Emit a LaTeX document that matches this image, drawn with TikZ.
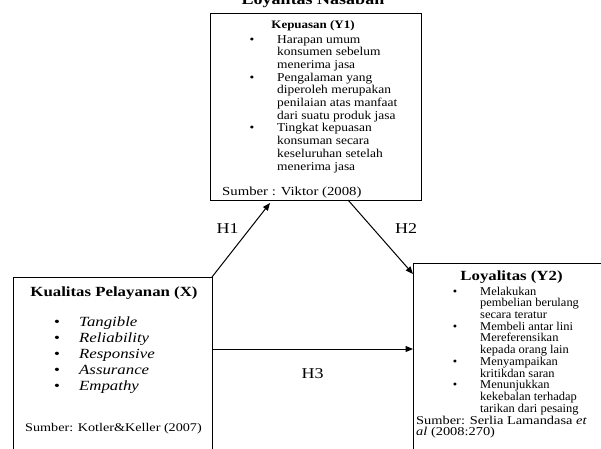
\documentclass[tikz,border=0pt]{standalone}
\usepackage{fontspec}
\setmainfont{Liberation Serif}
\usetikzlibrary{arrows.meta}
% horizontal scaling of 12pt / 14pt / 15pt text
\newcommand{\kpt}[1]{\scalebox{1.12}[1]{#1}}
\newcommand{\lyt}[1]{\scalebox{1.04}[1]{#1}}
\newcommand{\wide}[1]{\scalebox{1.2}[1]{#1}}
\begin{document}
\begin{tikzpicture}[x=1pt,y=-1pt,
  box/.style={draw, line width=0.8pt, inner sep=0pt, outer sep=0pt, anchor=north west},
  lft/.style={inner sep=0pt, anchor=base west},
  mid/.style={inner sep=0pt, anchor=base},
  f12/.style={font=\fontsize{12}{14}\selectfont},
  f12b/.style={font=\fontsize{12}{14}\selectfont\bfseries},
  f14/.style={font=\fontsize{14}{16}\selectfont},
  f14b/.style={font=\fontsize{14}{16}\selectfont\bfseries},
  f14i/.style={font=\fontsize{14}{16}\selectfont\itshape},
  f15/.style={font=\fontsize{15}{17}\selectfont},
  f15b/.style={font=\fontsize{15}{17}\selectfont\bfseries},
  conn/.style={line width=1pt, -{Triangle[length=7.5pt,width=6pt]}}]
\fill[white] (0,0) rectangle (601,448);
\useasboundingbox (0,0) rectangle (601,448);

% title (cut off at top)
\node[mid, f15b] (title) at (313,4) {\wide{Loyalitas Nasabah}};

% boxes
\node[box, minimum width=211pt, minimum height=187pt] (kep) at (210,13) {};
\node[box, minimum width=199pt, minimum height=200pt] (kual) at (13,277) {};
\node[box, minimum width=200pt, minimum height=200pt] (loy) at (413,263) {};

% Kepuasan content
\node[mid, f12b] (kept) at (313,28.5) {\scalebox{1.08}[0.95]{Kepuasan (Y1)}};
\node[mid, f12] (kb1) at (252,43) {\kpt{\textbullet}};
\node[lft, f12] (kp1) at (277,43) {\kpt{Harapan umum}};
\node[lft, f12] (kp2) at (277,55.7) {\kpt{konsumen sebelum}};
\node[lft, f12] (kp3) at (277,68.4) {\kpt{menerima jasa}};
\node[mid, f12] (kb2) at (252,81.1) {\kpt{\textbullet}};
\node[lft, f12] (kp4) at (277,81.1) {\kpt{Pengalaman yang}};
\node[lft, f12] (kp5) at (277,93.8) {\kpt{diperoleh merupakan}};
\node[lft, f12] (kp6) at (277,106.5) {\kpt{penilaian atas manfaat}};
\node[lft, f12] (kp7) at (277,119.2) {\kpt{dari suatu produk jasa}};
\node[mid, f12] (kb3) at (252,131.9) {\kpt{\textbullet}};
\node[lft, f12] (kp8) at (277,131.9) {\kpt{Tingkat kepuasan}};
\node[lft, f12] (kp9) at (277,144.6) {\kpt{konsuman secara}};
\node[lft, f12] (kp10) at (277,157.3) {\kpt{keseluruhan setelah}};
\node[lft, f12] (kp11) at (277,170) {\kpt{menerima jasa}};
\node[lft, f12] (kps) at (222,195) {\scalebox{1.23}[1.025]{Sumber : Viktor (2008)}};

% Kualitas Pelayanan content
\node[mid, f14b] (kualt) at (114,296) {\wide{Kualitas Pelayanan (X)}};
\node[mid, f14] (kqb1) at (57,326) {\wide{\textbullet}};
\node[mid, f14] (kqb2) at (57,342) {\wide{\textbullet}};
\node[mid, f14] (kqb3) at (57,358) {\wide{\textbullet}};
\node[mid, f14] (kqb4) at (57,374) {\wide{\textbullet}};
\node[mid, f14] (kqb5) at (57,390) {\wide{\textbullet}};
\node[lft, f14i] (kq1) at (79,326) {\wide{Tangible}};
\node[lft, f14i] (kq2) at (79,342) {\wide{Reliability}};
\node[lft, f14i] (kq3) at (79,358) {\wide{Responsive}};
\node[lft, f14i] (kq4) at (79,374) {\wide{Assurance}};
\node[lft, f14i] (kq5) at (79,390) {\wide{Empathy}};
\node[lft, f12] (kqs) at (25,431) {\scalebox{1.18}[0.983]{Sumber: Kotler\&Keller (2007)}};

% Loyalitas content
\node[mid, f14b] (loyt) at (511.5,280.5) {\wide{Loyalitas (Y2)}};
\node[mid, f12] (lb1) at (455,295) {\lyt{\textbullet}};
\node[lft, f12] (ly1) at (480,295) {\lyt{Melakukan}};
\node[lft, f12] (ly2) at (480,306.73) {\lyt{pembelian berulang}};
\node[lft, f12] (ly3) at (480,318.46) {\lyt{secara teratur}};
\node[mid, f12] (lb2) at (455,330.19) {\lyt{\textbullet}};
\node[lft, f12] (ly4) at (480,330.19) {\lyt{Membeli antar lini}};
\node[lft, f12] (ly5) at (480,341.92) {\lyt{Mereferensikan}};
\node[lft, f12] (ly6) at (480,353.65) {\lyt{kepada orang lain}};
\node[mid, f12] (lb3) at (455,365.38) {\lyt{\textbullet}};
\node[lft, f12] (ly7) at (480,365.38) {\lyt{Menyampaikan}};
\node[lft, f12] (ly8) at (480,377.11) {\lyt{kritikdan saran}};
\node[mid, f12] (lb4) at (455,388.84) {\lyt{\textbullet}};
\node[lft, f12] (ly9) at (480,388.84) {\lyt{Menunjukkan}};
\node[lft, f12] (ly10) at (480,400.57) {\lyt{kekebalan terhadap}};
\node[lft, f12] (ly11) at (480,412.3) {\lyt{tarikan dari pesaing}};
\node[lft, f12] (lys1) at (416,424.03) {\wide{Sumber: Serlia Lamandasa \textit{et}}};
\node[lft, f12] (lys2) at (416,435.76) {\wide{\textit{al} (2008:270)}};

% connectors
\coordinate (h1end) at (270,203);
\coordinate (h2start) at (348,200);
\coordinate (h2end) at (413,274);
\coordinate (h3start) at (212,349);
\draw[conn] (kual.north east) -- (h1end);
\draw[conn] (h2start) -- (h2end);
\draw[conn] (h3start) -- (h3start -| loy.west);

% labels
\node[mid, f15] (h1) at (227.5,233) {\wide{H1}};
\node[mid, f15] (h2) at (406,233) {\wide{H2}};
\node[mid, f15] (h3) at (312.5,378) {\wide{H3}};
\end{tikzpicture}
\end{document}
